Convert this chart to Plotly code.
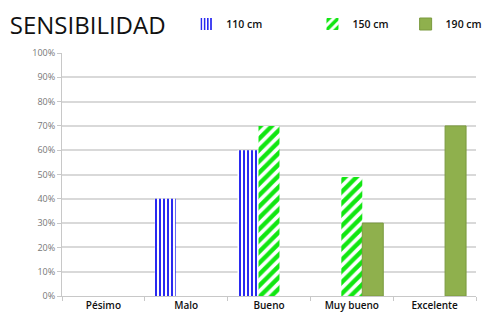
import plotly.graph_objects as go

categories = ["Pésimo", "Malo", "Bueno", "Muy bueno", "Excelente"]
series_names = ["110 cm", "150 cm", "190 cm"]
v110 = [None, 40, 60, None, None]
v150 = [None, None, 70, 49, None]
v190 = [None, None, None, 30, 70]
y_ticks = list(range(0, 101, 10))
y_ticktext = [f"{v}%" for v in y_ticks]

fig = go.Figure()
fig.add_bar(x=categories, y=v110, name=series_names[0], legend="legend",
            marker=dict(color="white", line=dict(width=0),
                        pattern=dict(shape="|", fgcolor="#2a2af0", bgcolor="white",
                                     size=4, solidity=0.5, fgopacity=1)))
fig.add_bar(x=categories, y=v150, name=series_names[1], legend="legend2",
            marker=dict(color="white", line=dict(width=0),
                        pattern=dict(shape="/", fgcolor="#11e611", bgcolor="white",
                                     size=8, solidity=0.55, fgopacity=1)))
fig.add_bar(x=categories, y=v190, name=series_names[2], legend="legend3",
            marker=dict(color="#8fb04d", line=dict(width=1, color="#7a9a3e")))

leg_common = dict(orientation="h", yanchor="middle", xanchor="left", yref="container",
                  bgcolor="rgba(0,0,0,0)",
                  font=dict(family="Open Sans", size=10.5, color="#111", weight=600),
                  itemwidth=30, tracegroupgap=0)
fig.update_layout(
    width=488, height=320,
    margin=dict(l=62, r=12, t=53, b=24, autoexpand=False),
    paper_bgcolor="white", plot_bgcolor="white",
    barmode="group", bargap=0.24, bargroupgap=0,
    title=dict(text="SENSIBILIDAD", x=0.02, xref="container", xanchor="left",
               y=1 - 26 / 320, yref="container", yanchor="middle",
               font=dict(family="Open Sans", size=24, color="#111")),
    legend=dict(x=0.30, y=1 - 24 / 320, **leg_common),
    legend2=dict(x=0.605, y=1 - 24 / 320, **leg_common),
    legend3=dict(x=0.83, y=1 - 24 / 320, **leg_common),
    showlegend=True,
)
fig.update_yaxes(range=[0, 100], tickvals=y_ticks, ticktext=y_ticktext,
                 showgrid=True, gridcolor="#d9d9d9", gridwidth=1.5,
                 showline=True, linecolor="#c8c8c8", ticks="outside", ticklen=4,
                 tickcolor="#c8c8c8", tickfont=dict(family="Open Sans", size=9, color="#777"),
                 zeroline=False, automargin=False)
fig.update_xaxes(showline=True, linecolor="#c8c8c8", ticks="outside", ticklen=4,
                 tickcolor="#c8c8c8", tickson="boundaries", automargin=False,
                 tickfont=dict(family="Open Sans", size=10, color="#111", weight=600))

fig.write_html("out.html")
